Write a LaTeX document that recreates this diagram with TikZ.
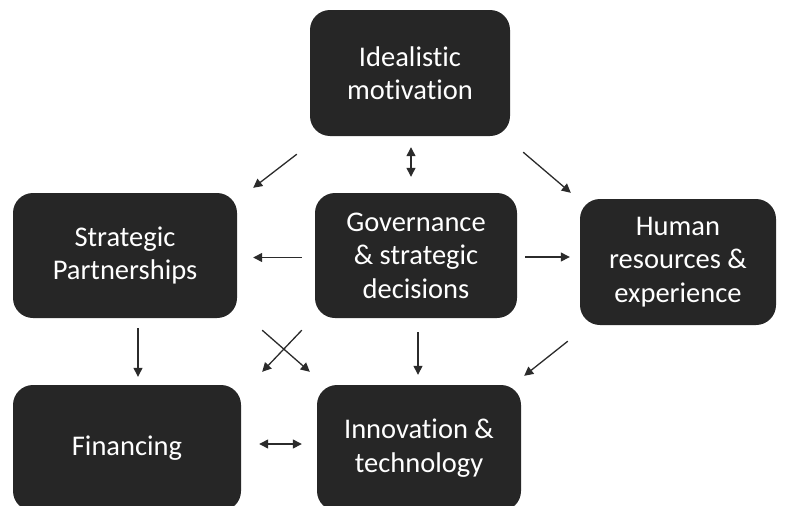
\documentclass[tikz,border=0pt]{standalone}
\usepackage{fontspec}
\setmainfont{Carlito}[Ligatures=NoCommon]
\usetikzlibrary{arrows.meta}
\definecolor{boxgray}{HTML}{262626}
\definecolor{arrgray}{HTML}{2B2B2B}
\begin{document}
\begin{tikzpicture}[x=1pt,y=-1pt]
    \tikzstyle{box} = [fill=boxgray, rounded corners=20pt, text=white, align=center, inner sep=0pt, font=\fontsize{28.5}{33.5}\selectfont]
    \tikzstyle{a} = [draw=arrgray, line width=1.3pt, -{Triangle[length=9pt,width=9pt]}]
    \tikzstyle{aa} = [draw=arrgray, line width=1.3pt, {Triangle[length=9pt,width=9pt]}-{Triangle[length=9pt,width=9pt]}]
    \clip (0,0) rectangle (790,506);
    \node [box, minimum width=200pt, minimum height=126pt] (ideal) at (410,73) {Idealistic\\motivation};
    \node [box, minimum width=224pt, minimum height=125pt] (sp) at (125,255.5) {Strategic\\Partnerships};
    \node [box, minimum width=202pt, minimum height=125pt] (gov) at (416,255.5) {Governance\\\& strategic\\decisions};
    \node [box, minimum width=196pt, minimum height=126pt] (hr) at (678,262) {Human\\resources \&\\experience};
    \node [box, minimum width=228pt, minimum height=126pt] (fin) at (127,448) {Financing};
    \node [box, minimum width=204pt, minimum height=126pt] (inno) at (419,448) {Innovation \&\\technology};
    % top row
    \path [aa] ([xshift=1pt,yshift=-11pt]ideal.south) to ([xshift=-5pt,yshift=16pt]gov.north);
    \path [a] ([xshift=-13pt,yshift=-18pt]ideal.south west) to ([xshift=16pt,yshift=5pt]sp.north east);
    \path [a] ([xshift=13pt,yshift=-16pt]ideal.south east) to ([xshift=-9pt,yshift=6pt]hr.north west);
    % middle row
    \path [a] ([xshift=-13pt,yshift=-2pt]gov.west) to ([xshift=16pt,yshift=-2pt]sp.east);
    \path [a] ([xshift=8pt,yshift=-1.5pt]gov.east) to ([xshift=-10pt,yshift=5pt]hr.west);
    % down to bottom row
    \path [a] ([xshift=13pt,yshift=-10pt]sp.south) to ([xshift=11pt,yshift=8pt]fin.north);
    \path [a] ([xshift=25pt,yshift=-12pt]sp.south east) to ([xshift=-7pt,yshift=13pt]inno.north west);
    \path [a] ([xshift=-13pt,yshift=-12pt]gov.south west) to ([xshift=21pt,yshift=13pt]fin.north east);
    \path [a] ([xshift=2pt,yshift=-14pt]gov.south) to ([xshift=-1pt,yshift=10pt]inno.north);
    \path [a] ([xshift=-12pt,yshift=-16pt]hr.south west) to ([xshift=3pt,yshift=9pt]inno.north east);
    % bottom row
    \path [aa] ([xshift=18pt,yshift=4pt]fin.east) to ([xshift=-15pt,yshift=4pt]inno.west);
\end{tikzpicture}
\end{document}
